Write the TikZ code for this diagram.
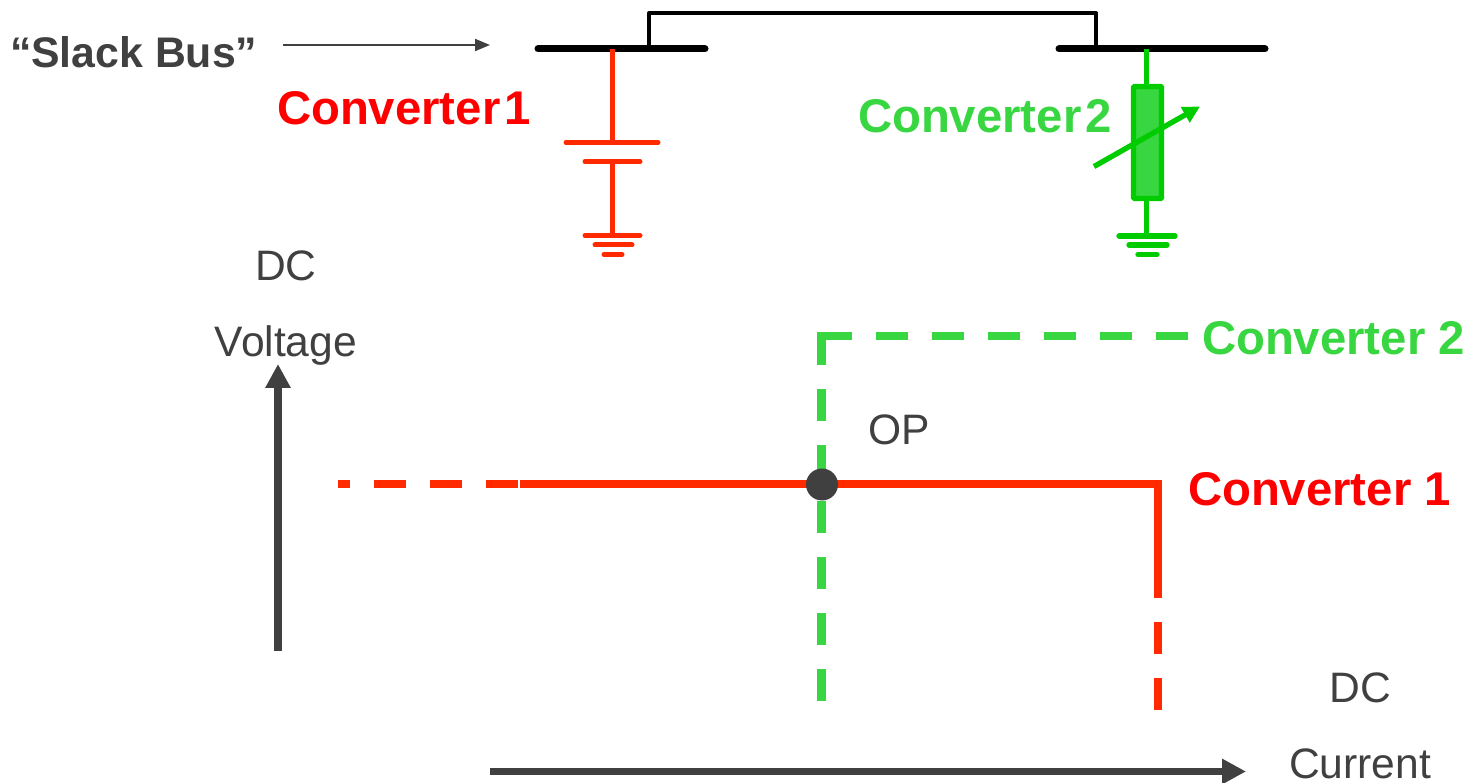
\documentclass[tikz,border=0pt]{standalone}
\usepackage{xcolor}
\definecolor{conv1}{HTML}{FF2A00}
\definecolor{conv1txt}{HTML}{FF0000}
\definecolor{conv2}{HTML}{00CC00}
\definecolor{conv2lt}{HTML}{38D640}
\definecolor{axis}{HTML}{404040}
\usepackage{fontspec}
\setmainfont{Liberation Sans}
\usetikzlibrary{arrows.meta}

\begin{document}
\begin{tikzpicture}[
  x=1pt, y=-1pt,
  inner sep=0pt, outer sep=0pt,
  every node/.append style={anchor=base west},
  bus/.style={draw=black, line width=7pt, line cap=round},
  link/.style={draw=black, line width=4pt, line join=round},
  wire1/.style={draw=conv1, line width=5pt},
  plate1/.style={wire1, line cap=round},
  wire2/.style={draw=conv2, line width=5.3pt},
  plate2/.style={wire2, line cap=round},
  curve1/.style={draw=conv1, line width=8.5pt, line join=miter},
  curve2/.style={draw=conv2lt, line width=8.5pt, line join=miter},
  dashes/.style={dash pattern=on 32pt off 24pt},
  axisline/.style={draw=axis, line width=7.8pt, -{Triangle[length=24pt,width=24pt]}},
  boldlabel/.style={font=\fontsize{47.3}{50}\selectfont\bfseries},
  plainlabel/.style={font=\fontsize{42.6}{46}\selectfont, text=axis}
  ]
  \useasboundingbox (0,0) rectangle (1470,783);

  % buses
  \coordinate (bus1w) at (538,49);
  \coordinate (bus1e) at (705,49);
  \coordinate (bus1link) at (649,49);
  \coordinate (bus1tap) at (612,49);
  \coordinate (bus2w) at (1059,49);
  \coordinate (bus2e) at (1265,49);
  \coordinate (bus2link) at (1096,49);
  \coordinate (bus2tap) at (1146.5,49);
  \draw [link] (bus1link) -- (649,13) -- (1096,13) -- (bus2link);
  \draw [bus] (bus1w) -- (bus1e);
  \draw [bus] (bus2w) -- (bus2e);

  % slack label
  \node [font=\fontsize{42.8}{46}\selectfont\bfseries, text=axis] (slack) at (10,68) {“Slack Bus”};
  \coordinate (slackfrom) at (283,45);
  \coordinate (slackto) at (490,45);
  \draw [draw=axis, line width=2pt, -{Triangle[length=15pt,width=12pt]}] (slackfrom) -- (slackto);

  % converter 1 : source
  \coordinate (batt1l) at (566,142.5);
  \coordinate (batt1r) at (658,142.5);
  \coordinate (batt1top) at (612,142.5);
  \coordinate (batt2l) at (585,161.5);
  \coordinate (batt2r) at (640,161.5);
  \coordinate (batt2top) at (612,161.5);
  \coordinate (gnd1) at (612,235.5);
  \draw [wire1] (bus1tap) -- (batt1top);
  \draw [wire1] (batt2top) -- (gnd1);
  \draw [plate1] (batt1l) -- (batt1r);
  \draw [plate1] (batt2l) -- (batt2r);
  \draw [plate1] (585,235.5) -- (640,235.5);
  \draw [plate1] (595,245) -- (632,245);
  \draw [plate1] (604,254.5) -- (622,254.5);
  \node [boldlabel, text=conv1txt] (conv1top) at (277,125) {Converter\kern4pt 1};

  % converter 2 : variable load
  \node [draw=conv2, line width=5.3pt, fill=conv2lt, rounded corners=1pt,
    minimum width=28pt, minimum height=112pt, anchor=center] (load) at (1147.5,142.5) {};
  \coordinate (gnd2) at (1146.5,236);
  \coordinate (varfrom) at (1094,166.5);
  \coordinate (varto) at (1200,106.5);
  \draw [wire2] (bus2tap) -- (load.north -| bus2tap);
  \draw [wire2] (load.south -| bus2tap) -- (gnd2);
  \draw [wire2, -{Triangle[length=17pt,width=17pt]}] (varfrom) -- (varto);
  \draw [plate2] (1119,236) -- (1175,236);
  \draw [plate2] (1129,245) -- (1167,245);
  \draw [plate2] (1138,254.5) -- (1157,254.5);
  \node [boldlabel, text=conv2lt] (conv2top) at (858,132.5) {Converter\kern4pt 2};

  % axes
  \coordinate (vfrom) at (278,651);
  \coordinate (vto) at (278,364);
  \coordinate (ifrom) at (490,771.5);
  \coordinate (ito) at (1246,771.5);
  \draw [axisline] (vfrom) -- (vto);
  \draw [axisline] (ifrom) -- (ito);
  \node [plainlabel, anchor=base] (dcv) at (286,280.5) {DC};
  \node [plainlabel, anchor=base] (volt) at (286,356.5) {Voltage};
  \node [plainlabel, anchor=base] (dci) at (1360,702.5) {DC};
  \node [plainlabel] (curr) at (1289,778) {Current};

  % converter 2 curve
  \coordinate (c2corner) at (821.5,336);
  \coordinate (c2a) at (821.5,365);
  \coordinate (c2b) at (852,336);
  \coordinate (c2c) at (821.5,389);
  \coordinate (c2end) at (821.5,701);
  \coordinate (c2d) at (876,336);
  \coordinate (c2far) at (1188,336);
  \draw [curve2] (c2a) -- (c2corner) -- (c2b);
  \draw [curve2, dashes] (c2c) -- (c2end);
  \draw [curve2, dashes] (c2d) -- (c2far);
  \node [boldlabel, text=conv2lt] (conv2low) at (1202,354.5) {Converter 2};

  % converter 1 curve
  \coordinate (c1a) at (518,484);
  \coordinate (c1left) at (338,484);
  \coordinate (c1b) at (520,484);
  \coordinate (c1corner) at (1158,484);
  \coordinate (c1c) at (1158,598);
  \coordinate (c1d) at (1158,622);
  \coordinate (c1end) at (1158,710);
  \draw [curve1, dashes] (c1a) -- (c1left);
  \draw [curve1] (c1b) -- (c1corner) -- (c1c);
  \draw [curve1, dashes] (c1d) -- (c1end);
  \node [boldlabel, text=conv1txt] (conv1low) at (1188,505) {Converter 1};

  % operating point
  \node [circle, fill=axis, minimum size=32pt, anchor=center] (op) at (822,484.5) {};
  \node [plainlabel] (oplabel) at (868,445) {OP};
\end{tikzpicture}
\end{document}
